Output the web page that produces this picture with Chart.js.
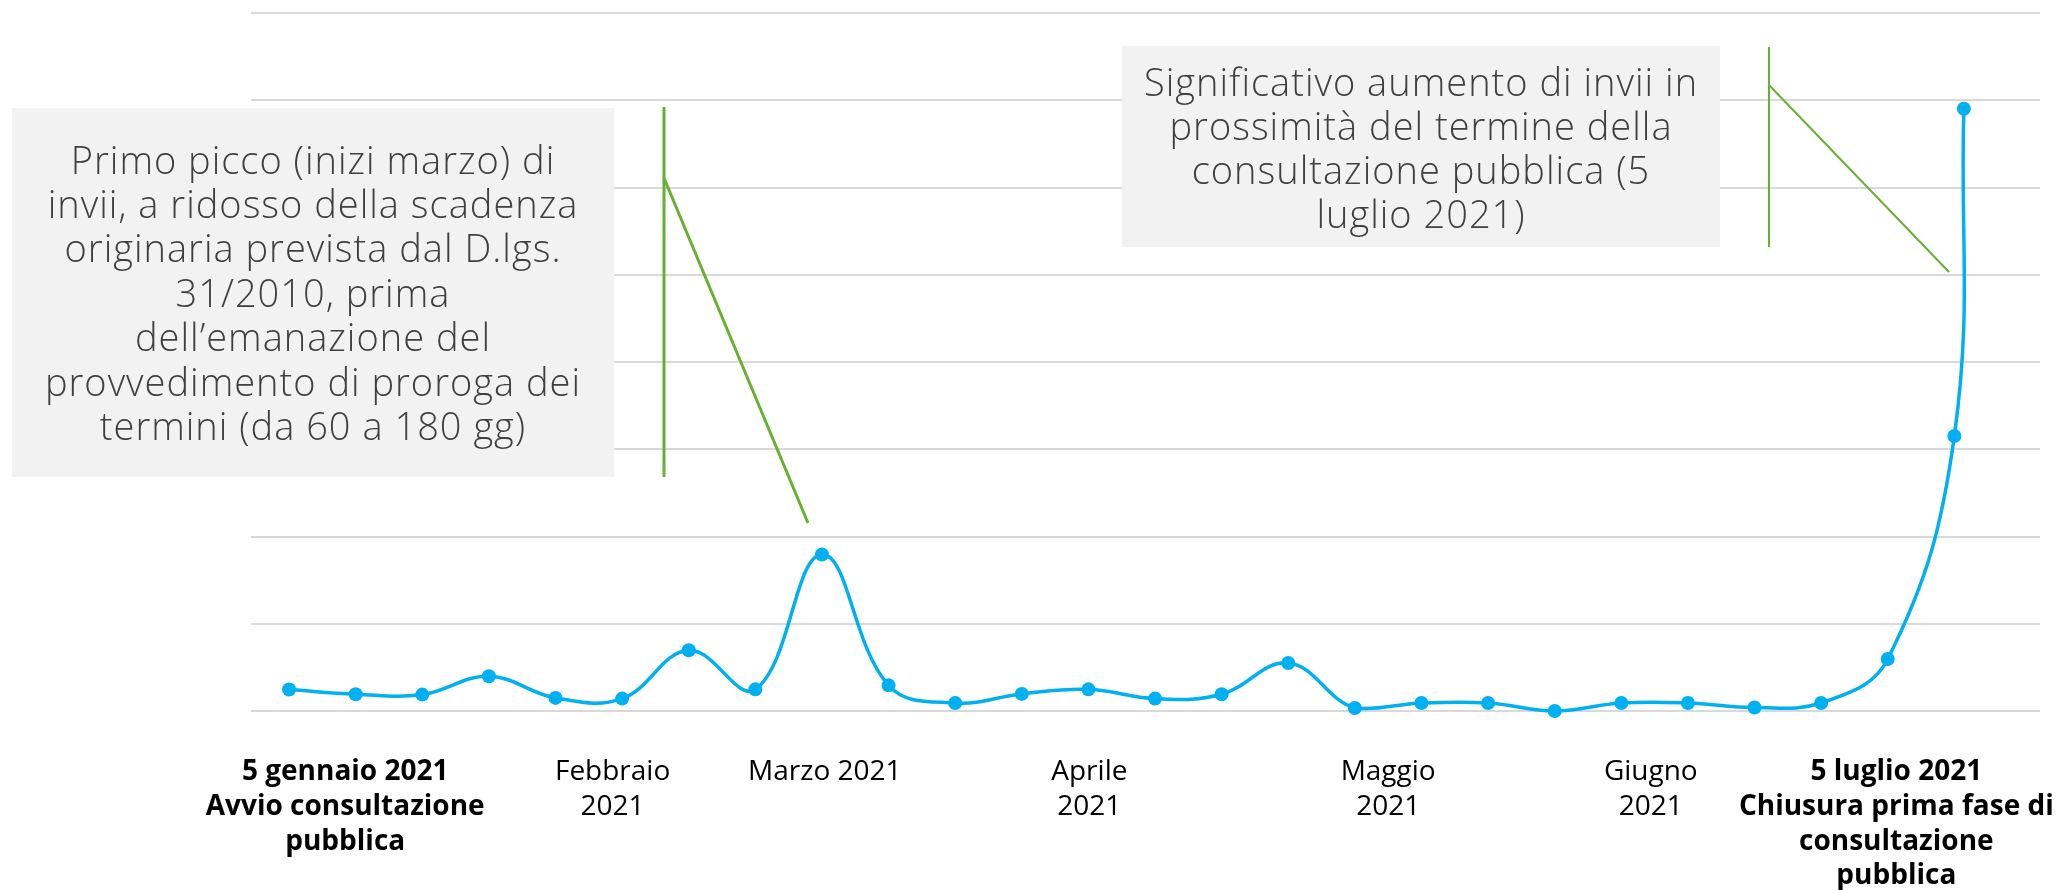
<!DOCTYPE html>
<html>
<head>
<meta charset="utf-8">
<script src="https://cdn.jsdelivr.net/npm/chart.js@4.4.1/dist/chart.umd.min.js"></script>
<style>
  html, body { margin: 0; padding: 0; background: #ffffff; }
  #wrap { position: relative; width: 2057px; height: 890px; }
  canvas { display: block; }
</style>
</head>
<body>
<div id="wrap"><canvas id="c" width="2057" height="890"></canvas></div>
<script>
// ---- data (x = days since 5 gennaio 2021, weekly samples; last sample on the following day)
const sampleDays = [0, 7, 14, 21, 28, 35, 42, 49, 56, 63, 70, 77, 84, 91, 98, 105, 112, 119, 126, 133, 140, 147, 154, 161, 168, 175, 176];
const submissions = [12.3, 9.6, 9.4, 19.9, 7.5, 7.1, 34.8, 12.4, 89.7, 14.7, 4.6, 9.8, 12.4, 7.1, 9.6, 27.5, 1.7, 4.6, 4.6, 0, 4.6, 4.6, 2.0, 4.6, 29.8, 157.6, 345.1];

// ---- x-axis tick labels and where they sit (in days)
const tickDays = [5.9, 34.0, 56.3, 84.1, 115.5, 143.1, 168.9];
const tickLabels = [
  ['5 gennaio 2021', 'Avvio consultazione', 'pubblica'],
  ['Febbraio', '2021'],
  ['Marzo 2021'],
  ['Aprile', '2021'],
  ['Maggio', '2021'],
  ['Giugno', '2021'],
  ['5 luglio 2021', 'Chiusura prima fase di', 'consultazione', 'pubblica']
];
const boldTicks = [0, 6];

// ---- callout texts
const callout1Lines = [
  'Primo picco (inizi marzo) di',
  'invii, a ridosso della scadenza',
  'originaria prevista dal D.lgs.',
  '31/2010, prima',
  'dell\u2019emanazione del',
  'provvedimento di proroga dei',
  'termini (da 60 a 180 gg)'
];
const callout2Lines = [
  'Significativo aumento di invii in',
  'prossimit\u00e0 del termine della',
  'consultazione pubblica (5',
  'luglio 2021)'
];

const BLUE = '#00b0f0';
const GREEN = '#66b032';

const callouts = [
  { lines: callout1Lines, box: [12, 108, 602, 369], cx: 313, base: 173.5, lh: 44.45,
    strokes: [[[664, 107], [664, 477]], [[664, 178], [808, 523]]], lw: 3 },
  { lines: callout2Lines, box: [1122, 46, 598, 201], cx: 1421, base: 95.5, lh: 44.3,
    strokes: [[[1769, 47], [1769, 247]], [[1769, 85], [1949, 272]]], lw: 2 }
];

const calloutPlugin = {
  id: 'callouts',
  afterDraw(chart) {
    const ctx = chart.ctx;
    ctx.save();
    for (const c of callouts) {
      ctx.fillStyle = '#f2f2f2';
      ctx.fillRect(c.box[0], c.box[1], c.box[2], c.box[3]);
      ctx.fillStyle = '#404040';
      ctx.font = '300 38px "Open Sans"';
      if ('letterSpacing' in ctx) ctx.letterSpacing = '1px';
      ctx.textAlign = 'center';
      ctx.textBaseline = 'alphabetic';
      c.lines.forEach((t, i) => ctx.fillText(t, c.cx, c.base + i * c.lh));
      if ('letterSpacing' in ctx) ctx.letterSpacing = '0px';
      ctx.strokeStyle = GREEN;
      ctx.lineWidth = c.lw;
      ctx.lineCap = 'butt';
      for (const s of c.strokes) {
        ctx.beginPath();
        ctx.moveTo(s[0][0], s[0][1]);
        ctx.lineTo(s[1][0], s[1][1]);
        ctx.stroke();
      }
    }
    ctx.restore();
  }
};

const points = sampleDays.map((d, i) => ({ x: d, y: submissions[i] }));

new Chart(document.getElementById('c'), {
  type: 'line',
  data: {
    datasets: [{
      data: points,
      borderColor: BLUE,
      backgroundColor: BLUE,
      borderWidth: 3.5,
      pointRadius: 7,
      pointBorderWidth: 0,
      pointBackgroundColor: BLUE,
      tension: 0.4,
      fill: false,
      clip: false
    }]
  },
  options: {
    responsive: false,
    animation: false,
    events: [],
    layout: { autoPadding: false, padding: { left: 0, right: 17, top: 13, bottom: 0 } },
    plugins: { legend: { display: false }, tooltip: { enabled: false } },
    scales: {
      x: {
        type: 'linear',
        min: -4,
        max: 184,
        grid: { display: false },
        border: { display: false },
        afterBuildTicks: (axis) => { axis.ticks = tickDays.map(v => ({ value: v })); },
        afterFit: (axis) => {
          axis.height = 179;
          axis.paddingLeft = 0;
          axis.paddingRight = 0;
        },
        ticks: {
          autoSkip: false,
          maxRotation: 0,
          minRotation: 0,
          padding: 36,
          color: '#000000',
          font: (ctx) => ({
            family: '"Open Sans"',
            size: 28,
            weight: boldTicks.includes(ctx.index) ? 'bold' : 'normal',
            lineHeight: 1.24
          }),
          callback: (value, index) => tickLabels[index]
        }
      },
      y: {
        min: 0,
        max: 400,
        border: { display: false },
        grid: { color: '#d9d9d9', lineWidth: 2, drawTicks: false },
        afterFit: (axis) => {
          axis.width = 251;
          axis.paddingTop = 0;
          axis.paddingBottom = 0;
        },
        ticks: { stepSize: 50, display: false }
      }
    }
  },
  plugins: [calloutPlugin]
});
</script>
</body>
</html>
